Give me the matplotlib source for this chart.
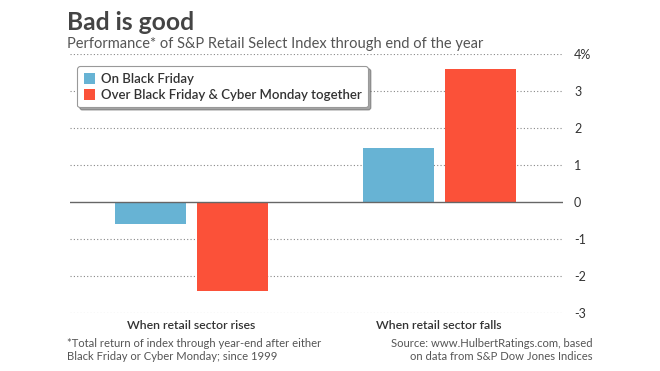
import matplotlib.pyplot as plt
import numpy as np

plt.rcParams['font.family'] = ['Lato', 'DejaVu Sans']

categories = ["When retail sector rises", "When retail sector falls"]
black_friday = [-0.6, 1.45]
bf_cyber = [-2.4, 3.6]
series_names = ["On Black Friday", "Over Black Friday & Cyber Monday together"]
yticks = [-3, -2, -1, 0, 1, 2, 3, 4]
ytick_labels = ["-3", "-2", "-1", "0", "1", "2", "3", "4%"]

blue = "#67b3d4"
red = "#fb5139"
grey = "#555555"

fig = plt.figure(figsize=(6.6, 3.71), dpi=100)
ax = fig.add_axes([70 / 660, 1 - 313 / 371, 493 / 660, (313 - 54) / 371])

x = np.arange(len(categories))
off = 41 / 247.5
w = 71 / 247.5
ax.bar(x - off, black_friday, w, color=blue, label=series_names[0], zorder=3)
ax.bar(x + off, bf_cyber, w, color=red, label=series_names[1], zorder=3)

ax.set_xlim(-0.491, 1.501)
ax.set_ylim(-3, 4)
for v in yticks:
    if v == 0:
        ax.axhline(v, color="#666666", lw=1.0, zorder=4)
    else:
        ax.axhline(v, color="#888888", lw=0.8, ls=(0, (1, 2)), zorder=1)

ax.set_yticks(yticks)
ax.set_yticklabels(ytick_labels)
ax.yaxis.tick_right()
ax.tick_params(axis="y", length=0, pad=8, labelsize=9, labelcolor="#333333")
ax.set_xticks(x)
ax.set_xticklabels(categories)
ax.tick_params(axis="x", length=0, pad=5, labelsize=8.8, labelcolor="#333333")
for t in ax.get_xticklabels():
    t.set_fontweight("semibold")
for s in ax.spines.values():
    s.set_visible(False)

leg = ax.legend(loc="upper left", bbox_to_anchor=(7 / 493, (313 - 66) / 259),
                frameon=True, fancybox=True, shadow=True, fontsize=9.5,
                handlelength=0.9, handleheight=0.9, handletextpad=0.4,
                borderpad=0.5, labelspacing=0.3, borderaxespad=0)
leg.get_frame().set_edgecolor("#999999")
leg.get_frame().set_linewidth(0.8)
for t in leg.get_texts():
    t.set_color("#333333")
    t.set_fontweight("semibold")

fig.text(67 / 660, 1 - 23 / 371, "Bad is good", fontsize=17.7, fontweight="bold",
         color="#444444", va="center", ha="left")
fig.text(67 / 660, 1 - 44 / 371, "Performance* of S&P Retail Select Index through end of the year",
         fontsize=10.5, color="#555555", va="center", ha="left")
fig.text(67 / 660, 1 - 350 / 371,
         "*Total return of index through year-end after either\nBlack Friday or Cyber Monday; since 1999",
         fontsize=8.1, color=grey, va="center", ha="left", linespacing=1.15)
fig.text(593 / 660, 1 - 350 / 371,
         "Source: www.HulbertRatings.com, based\non data from S&P Dow Jones Indices",
         fontsize=8.1, color=grey, va="center", ha="right", multialignment="right",
         linespacing=1.15)

fig.savefig("out.png", dpi=100)
